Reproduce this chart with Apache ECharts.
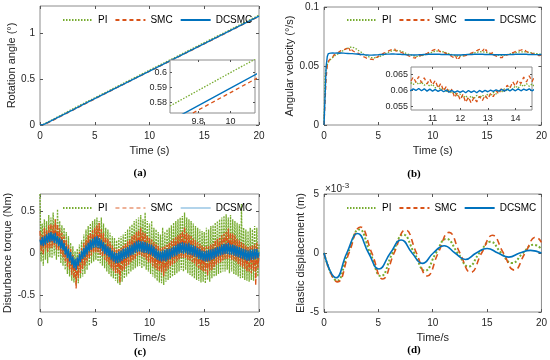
<!DOCTYPE html>
<html><head><meta charset="utf-8">
<script src="https://cdn.jsdelivr.net/npm/echarts@6/dist/echarts.min.js"></script>
<style>html,body{margin:0;padding:0;background:#fff}#c{width:550px;height:360px}</style>
</head><body><div id="c"></div>
<script>
// ---------- DATA ----------
const seriesNames = ['PI', 'SMC', 'DCSMC'];
const captions = ['(a)', '(b)', '(c)', '(d)'];

// (a) rotation angle (deg)
const angleT = [0, 0.25, 0.5, 1, 2, 3, 4, 5, 6, 7, 8, 9, 10, 11, 12, 13, 14, 15, 16, 17, 18, 19, 20];
const anglePI = [0, 0.004, 0.02, 0.05, 0.113, 0.177, 0.238, 0.297, 0.357, 0.419, 0.479, 0.539, 0.600, 0.660, 0.719, 0.779, 0.840, 0.900, 0.960, 1.019, 1.080, 1.140, 1.200];
const angleSMC = [0, 0.001, 0.010, 0.040, 0.101, 0.162, 0.224, 0.285, 0.346, 0.4065, 0.4665, 0.5265, 0.5865, 0.6465, 0.7065, 0.7665, 0.8265, 0.8865, 0.9465, 1.0065, 1.0665, 1.1265, 1.1865];
const angleDC = [0, 0.002, 0.014, 0.044, 0.105, 0.166, 0.227, 0.288, 0.349, 0.4095, 0.4695, 0.5295, 0.5895, 0.6495, 0.7095, 0.7695, 0.8295, 0.8895, 0.9495, 1.0095, 1.0695, 1.1295, 1.1895];

// time grid for (b) and (c): 0 .. 20 s, step 0.1 s
const timeGrid = Array.from({length: 201}, (_, i) => i / 10);

// (b) angular velocity (deg/s)
const velPI = [
0, 0.042, 0.048, 0.051, 0.053, 0.0545, 0.0556, 0.0567, 0.0572, 0.0580,
0.0588, 0.0582, 0.0597, 0.0593, 0.0609, 0.0611, 0.0626, 0.0617, 0.0631, 0.0629,
0.0645, 0.0638, 0.0651, 0.0647, 0.0659, 0.0652, 0.0661, 0.0653, 0.0652, 0.0644,
0.0643, 0.0632, 0.0629, 0.0617, 0.0619, 0.0606, 0.0602, 0.0594, 0.0591, 0.0579,
0.0583, 0.0571, 0.0574, 0.0565, 0.0570, 0.0562, 0.0569, 0.0563, 0.0573, 0.0567,
0.0575, 0.0571, 0.0583, 0.0579, 0.0591, 0.0587, 0.0601, 0.0597, 0.0611, 0.0607,
0.0619, 0.0616, 0.0627, 0.0621, 0.0633, 0.0627, 0.0634, 0.0626, 0.0631, 0.0623,
0.0628, 0.0617, 0.0621, 0.0609, 0.0614, 0.0606, 0.0604, 0.0596, 0.0598, 0.0588,
0.0594, 0.0583, 0.0587, 0.0576, 0.0582, 0.0574, 0.0581, 0.0576, 0.0585, 0.0578,
0.0586, 0.0581, 0.0593, 0.0587, 0.0598, 0.0593, 0.0604, 0.0599, 0.0612, 0.0606,
0.0616, 0.0613, 0.0626, 0.0618, 0.0627, 0.0619, 0.0625, 0.0616, 0.0622, 0.0613,
0.0619, 0.0608, 0.0613, 0.0602, 0.0607, 0.0597, 0.0601, 0.0591, 0.0594, 0.0584,
0.0589, 0.0578, 0.0584, 0.0574, 0.0583, 0.0575, 0.0585, 0.0577, 0.0586, 0.0579,
0.0589, 0.0583, 0.0594, 0.0589, 0.0601, 0.0595, 0.0605, 0.0599, 0.0611, 0.0604,
0.0614, 0.0607, 0.0619, 0.0612, 0.0621, 0.0613, 0.0620, 0.0611, 0.0617, 0.0608,
0.0614, 0.0604, 0.0609, 0.0599, 0.0603, 0.0594, 0.0598, 0.0589, 0.0593, 0.0585,
0.0592, 0.0584, 0.0590, 0.0582, 0.0591, 0.0583, 0.0592, 0.0585, 0.0595, 0.0588,
0.0599, 0.0592, 0.0604, 0.0598, 0.0609, 0.0603, 0.0613, 0.0606, 0.0617, 0.0610,
0.0619, 0.0611, 0.0620, 0.0612, 0.0621, 0.0613, 0.0619, 0.0611, 0.0616, 0.0608,
0.0613, 0.0605, 0.0609, 0.0601, 0.0606, 0.0599, 0.0604, 0.0596, 0.0601, 0.0594,
0.0599];
const velSMC = [
0, 0.020, 0.040, 0.050, 0.054, 0.0555, 0.0562, 0.0578, 0.0574, 0.0592,
0.0585, 0.0603, 0.0596, 0.0614, 0.0604, 0.0628, 0.0612, 0.0635, 0.0622, 0.0641,
0.0629, 0.0649, 0.0632, 0.0651, 0.0630, 0.0648, 0.0631, 0.0645, 0.0621, 0.0637,
0.0616, 0.0628, 0.0605, 0.0617, 0.0591, 0.0603, 0.0581, 0.0594, 0.0572, 0.0584,
0.0563, 0.0577, 0.0558, 0.0572, 0.0556, 0.0570, 0.0555, 0.0573, 0.0560, 0.0576,
0.0568, 0.0587, 0.0579, 0.0597, 0.0589, 0.0609, 0.0598, 0.0617, 0.0608, 0.0626,
0.0617, 0.0634, 0.0624, 0.0643, 0.0627, 0.0645, 0.0628, 0.0642, 0.0624, 0.0640,
0.0621, 0.0636, 0.0612, 0.0627, 0.0603, 0.0619, 0.0596, 0.0610, 0.0586, 0.0600,
0.0580, 0.0595, 0.0571, 0.0586, 0.0567, 0.0584, 0.0568, 0.0585, 0.0571, 0.0589,
0.0574, 0.0592, 0.0583, 0.0601, 0.0590, 0.0608, 0.0600, 0.0619, 0.0609, 0.0628,
0.0614, 0.0637, 0.0626, 0.0641, 0.0625, 0.0643, 0.0624, 0.0639, 0.0620, 0.0635,
0.0617, 0.0631, 0.0607, 0.0622, 0.0598, 0.0613, 0.0590, 0.0604, 0.0578, 0.0593,
0.0571, 0.0588, 0.0563, 0.0580, 0.0561, 0.0579, 0.0565, 0.0582, 0.0568, 0.0586,
0.0573, 0.0591, 0.0581, 0.0599, 0.0589, 0.0608, 0.0597, 0.0616, 0.0606, 0.0627,
0.0613, 0.0632, 0.0621, 0.0641, 0.0626, 0.0645, 0.0627, 0.0644, 0.0623, 0.0640,
0.0622, 0.0637, 0.0613, 0.0628, 0.0602, 0.0619, 0.0594, 0.0610, 0.0585, 0.0599,
0.0580, 0.0594, 0.0572, 0.0588, 0.0571, 0.0589, 0.0573, 0.0590, 0.0577, 0.0596,
0.0581, 0.0600, 0.0591, 0.0611, 0.0600, 0.0618, 0.0607, 0.0626, 0.0615, 0.0633,
0.0617, 0.0635, 0.0622, 0.0639, 0.0623, 0.0638, 0.0621, 0.0636, 0.0617, 0.0632,
0.0614, 0.0628, 0.0605, 0.0619, 0.0597, 0.0612, 0.0591, 0.0606, 0.0588, 0.0601,
0.0593];
const velDC = [
0, 0.025, 0.050, 0.058, 0.0605, 0.0612, 0.0609, 0.0614, 0.0610, 0.0615,
0.0609, 0.0615, 0.0610, 0.0614, 0.0608, 0.0615, 0.0610, 0.0614, 0.0609, 0.0613,
0.0607, 0.0612, 0.0606, 0.0611, 0.0605, 0.0610, 0.0605, 0.0609, 0.0603, 0.0608,
0.0602, 0.0607, 0.0600, 0.0605, 0.0598, 0.0603, 0.0597, 0.0601, 0.0594, 0.0599,
0.0593, 0.0598, 0.0592, 0.0597, 0.0592, 0.0598, 0.0593, 0.0598, 0.0594, 0.0599,
0.0595, 0.0600, 0.0597, 0.0602, 0.0598, 0.0603, 0.0599, 0.0605, 0.0601, 0.0606,
0.0601, 0.0607, 0.0602, 0.0608, 0.0602, 0.0607, 0.0601, 0.0606, 0.0600, 0.0605,
0.0600, 0.0605, 0.0598, 0.0603, 0.0597, 0.0602, 0.0595, 0.0600, 0.0594, 0.0599,
0.0594, 0.0599, 0.0593, 0.0598, 0.0593, 0.0599, 0.0594, 0.0599, 0.0595, 0.0600,
0.0595, 0.0601, 0.0597, 0.0603, 0.0598, 0.0604, 0.0599, 0.0605, 0.0600, 0.0606,
0.0600, 0.0606, 0.0599, 0.0605, 0.0600, 0.0606, 0.0599, 0.0605, 0.0598, 0.0604,
0.0598, 0.0603, 0.0597, 0.0602, 0.0596, 0.0601, 0.0595, 0.0600, 0.0594, 0.0599,
0.0594, 0.0599, 0.0593, 0.0600, 0.0594, 0.0599, 0.0593, 0.0600, 0.0595, 0.0600,
0.0596, 0.0601, 0.0597, 0.0602, 0.0598, 0.0603, 0.0598, 0.0604, 0.0599, 0.0604,
0.0599, 0.0605, 0.0599, 0.0604, 0.0600, 0.0605, 0.0599, 0.0604, 0.0598, 0.0603,
0.0598, 0.0603, 0.0597, 0.0602, 0.0596, 0.0601, 0.0595, 0.0601, 0.0595, 0.0600,
0.0595, 0.0600, 0.0595, 0.0601, 0.0595, 0.0600, 0.0595, 0.0601, 0.0596, 0.0601,
0.0596, 0.0602, 0.0597, 0.0603, 0.0598, 0.0604, 0.0599, 0.0604, 0.0599, 0.0605,
0.0599, 0.0605, 0.0599, 0.0604, 0.0600, 0.0605, 0.0599, 0.0604, 0.0598, 0.0603,
0.0598, 0.0603, 0.0597, 0.0602, 0.0596, 0.0601, 0.0596, 0.0601, 0.0595, 0.0600,
0.0598];

// (c) disturbance torque (Nm)
const torquePI = [
0.70, -0.10, 0.35, -0.15, 0.40, -0.08, 0.38, -0.12, 0.45, -0.05,
0.42, -0.06, 0.48, -0.03, 0.40, -0.08, 0.52, -0.05, 0.38, -0.12,
0.33, -0.15, 0.30, -0.20, 0.25, -0.25, 0.20, -0.28, 0.12, -0.33,
0.08, -0.35, 0.02, -0.38, 0.05, -0.36, 0.10, -0.30, 0.15, -0.28,
0.22, -0.25, 0.28, -0.20, 0.32, -0.15, 0.35, -0.12, 0.38, -0.10,
0.40, -0.08, 0.42, -0.10, 0.38, -0.12, 0.42, -0.15, 0.35, -0.18,
0.30, -0.22, 0.28, -0.25, 0.24, -0.28, 0.20, -0.30, 0.18, -0.33,
0.15, -0.36, 0.18, -0.38, 0.20, -0.34, 0.22, -0.30, 0.25, -0.28,
0.28, -0.25, 0.32, -0.22, 0.34, -0.20, 0.38, -0.18, 0.40, -0.16,
0.42, -0.15, 0.45, -0.18, 0.40, -0.16, 0.48, -0.20, 0.38, -0.22,
0.35, -0.25, 0.38, -0.28, 0.30, -0.30, 0.28, -0.33, 0.25, -0.35,
0.22, -0.36, 0.30, -0.38, 0.25, -0.34, 0.28, -0.32, 0.30, -0.30,
0.33, -0.28, 0.36, -0.26, 0.38, -0.24, 0.40, -0.22, 0.42, -0.20,
0.44, -0.22, 0.48, -0.20, 0.42, -0.24, 0.40, -0.26, 0.38, -0.28,
0.35, -0.30, 0.32, -0.32, 0.30, -0.33, 0.28, -0.35, 0.26, -0.34,
0.25, -0.36, 0.30, -0.32, 0.28, -0.34, 0.32, -0.30, 0.33, -0.28,
0.36, -0.27, 0.38, -0.25, 0.40, -0.24, 0.42, -0.22, 0.44, -0.22,
0.46, -0.20, 0.42, -0.24, 0.45, -0.22, 0.40, -0.25, 0.38, -0.26,
0.36, -0.28, 0.34, -0.30, 0.58, -0.30, 0.30, -0.32, 0.28, -0.33,
0.26, -0.34, 0.30, -0.32, 0.28, -0.33, 0.32, -0.30, 0.30, -0.28,
0.10];
const torqueSMC = [
0.26, 0.02, 0.22, -0.02, 0.30, 0.05, 0.27, 0.01, 0.33, 0.06,
0.35, 0.06, 0.33, 0.09, 0.40, 0.04, 0.34, 0.03, 0.29, -0.01,
0.24, -0.05, 0.20, -0.10, 0.15, -0.16, 0.10, -0.20, 0.05, -0.26,
-0.02, -0.30, -0.08, -0.42, -0.05, -0.30, 0.01, -0.24, 0.06, -0.19,
0.12, -0.15, 0.16, -0.10, 0.21, -0.06, 0.24, -0.03, 0.27, 0.00,
0.30, 0.01, 0.33, 0.00, 0.36, -0.02, 0.28, -0.04, 0.24, -0.08,
0.19, -0.10, 0.17, -0.14, 0.13, -0.18, 0.09, -0.21, 0.06, -0.24,
0.04, -0.25, 0.05, -0.35, 0.06, -0.22, 0.09, -0.20, 0.11, -0.16,
0.14, -0.14, 0.16, -0.11, 0.20, -0.09, 0.22, -0.08, 0.25, -0.04,
0.27, -0.03, 0.30, -0.04, 0.25, -0.05, 0.24, -0.08, 0.21, -0.11,
0.18, -0.12, 0.16, -0.16, 0.13, -0.18, 0.11, -0.20, 0.09, -0.22,
0.06, -0.23, 0.07, -0.28, 0.08, -0.22, 0.10, -0.19, 0.12, -0.16,
0.15, -0.14, 0.17, -0.12, 0.19, -0.10, 0.21, -0.08, 0.23, -0.06,
0.26, -0.06, 0.31, -0.06, 0.24, -0.08, 0.22, -0.09, 0.20, -0.11,
0.17, -0.13, 0.15, -0.16, 0.13, -0.18, 0.11, -0.20, 0.09, -0.22,
0.07, -0.22, 0.08, -0.27, 0.08, -0.21, 0.10, -0.20, 0.11, -0.17,
0.15, -0.14, 0.17, -0.12, 0.18, -0.11, 0.21, -0.09, 0.23, -0.07,
0.25, -0.07, 0.29, -0.07, 0.24, -0.08, 0.23, -0.09, 0.21, -0.10,
0.17, -0.13, 0.15, -0.15, 0.13, -0.17, 0.11, -0.19, 0.09, -0.22,
0.07, -0.22, 0.08, -0.24, 0.09, -0.21, 0.10, -0.38, 0.12, -0.18,
-0.02];
const torqueDC = [
0.16, 0.09, 0.19, 0.08, 0.20, 0.10, 0.22, 0.12, 0.24, 0.13,
0.25, 0.14, 0.23, 0.12, 0.24, 0.11, 0.20, 0.08, 0.18, 0.05,
0.16, 0.03, 0.12, -0.02, 0.08, -0.06, 0.05, -0.10, 0.01, -0.14,
-0.04, -0.18, -0.07, -0.20, -0.05, -0.15, -0.01, -0.11, 0.03, -0.07,
0.06, -0.05, 0.09, -0.02, 0.12, 0.02, 0.15, 0.04, 0.17, 0.06,
0.19, 0.07, 0.20, 0.06, 0.18, 0.05, 0.16, 0.02, 0.13, -0.01,
0.10, -0.03, 0.08, -0.05, 0.06, -0.08, 0.03, -0.10, 0.01, -0.12,
0.00, -0.12, 0.02, -0.11, 0.03, -0.09, 0.05, -0.07, 0.06, -0.06,
0.07, -0.05, 0.09, -0.03, 0.10, -0.02, 0.12, 0.00, 0.14, 0.01,
0.15, 0.02, 0.14, 0.01, 0.14, 0.00, 0.13, 0.00, 0.12, -0.01,
0.11, -0.02, 0.10, -0.04, 0.08, -0.06, 0.05, -0.08, 0.03, -0.09,
0.02, -0.10, 0.03, -0.09, 0.04, -0.10, 0.05, -0.08, 0.05, -0.07,
0.06, -0.05, 0.08, -0.04, 0.09, -0.03, 0.11, -0.01, 0.12, 0.00,
0.13, -0.01, 0.12, 0.00, 0.11, -0.02, 0.12, -0.02, 0.10, -0.03,
0.09, -0.04, 0.08, -0.05, 0.06, -0.07, 0.05, -0.08, 0.03, -0.09,
0.02, -0.10, 0.03, -0.10, 0.04, -0.09, 0.04, -0.08, 0.05, -0.07,
0.06, -0.05, 0.07, -0.04, 0.08, -0.03, 0.10, -0.02, 0.11, -0.01,
0.11, -0.01, 0.12, -0.02, 0.10, -0.02, 0.10, -0.03, 0.09, -0.04,
0.08, -0.05, 0.07, -0.06, 0.06, -0.07, 0.05, -0.08, 0.04, -0.09,
0.03, -0.09, 0.04, -0.08, 0.04, -0.08, 0.05, -0.07, 0.05, -0.06,
0.01];

// (d) elastic displacement (x10^-3 m), sampled at extrema and zero crossings
const dispPIT  = [0, 1.2, 2.2, 3.25, 4.25, 5.25, 6.3, 7.3, 8.3, 9.3, 10.3, 11.25, 12.3, 13.3, 14.3, 15.3, 16.3, 17.3, 18.3, 19.3, 20];
const dispPI   = [0, -2.35, 0, 2.0, 0, -1.95, 0, 1.55, 0, -1.5, 0, 1.2, 0, -1.15, 0, 0.95, 0, -0.85, 0, 0.7, 0.35];
const dispSMCT = [0, 1.25, 2.3, 3.35, 4.4, 5.4, 6.45, 7.5, 8.5, 9.5, 10.5, 11.5, 12.5, 13.5, 14.5, 15.5, 16.5, 17.5, 18.5, 19.5, 20];
const dispSMC  = [0, -2.45, 0, 2.2, 0, -2.2, 0, 1.95, 0, -1.95, 0, 1.75, 0, -1.65, 0, 1.5, 0, -1.45, 0, 1.35, 0.9];
const dispDCT  = [0, 1.1, 2.1, 3.1, 4.1, 5.05, 6.1, 7.1, 8.1, 9.05, 10.05, 11.05, 12.05, 13.0, 14.0, 15.0, 16.0, 17.0, 18.0, 19.0, 20];
const dispDC   = [0, -2.1, 0, 1.65, 0, -1.35, 0, 1.1, 0, -0.88, 0, 0.62, 0, -0.55, 0, 0.38, 0, -0.35, 0, 0.22, 0];

// tick values
const timeTicks = [0, 5, 10, 15, 20];
const angleTicks = [0, 0.5, 1];
const velTicks = [0, 0.05, 0.1];
const torqueTicks = [-0.5, 0, 0.5];
const dispTicks = [-5, 0, 5];
const insetATimeTicks = [9.8, 10];
const insetAAngleTicks = [0.58, 0.59, 0.6];
const insetBTimeTicks = [11, 12, 13, 14];
const insetBVelTicks = [0.055, 0.06, 0.065];

// ---------- CHART ----------
const pair = (ts, vs) => vs.map((v, i) => [ts[i], v]);
const FONT = 'Liberation Sans';
const TXT = '#262626';
const FRAME = '#8c8c8c';
const C_PI = '#77AC30', C_SMC = '#D95319', C_DC = '#0072BD';

const grids = [
  {left: 40, top: 6, width: 219, height: 119},
  {left: 170, top: 60, width: 85, height: 53, z: 5, backgroundColor: '#fff'},
  {left: 324, top: 7, width: 218.5, height: 118},
  {left: 411, top: 67, width: 121, height: 43, z: 5, backgroundColor: '#fff'},
  {left: 40, top: 194, width: 219, height: 118},
  {left: 324, top: 194, width: 218.5, height: 118}
].map(g => Object.assign({show: true, borderColor: FRAME, borderWidth: 1, containLabel: false}, g));

function axis(g, pos, min, max, ticks, showLabel, o) {
  o = o || {};
  const a = {
    type: 'value', gridIndex: g, position: pos, min: min, max: max,
    axisLine: {show: false, onZero: false}, splitLine: {show: false},
    axisTick: {show: true, inside: true, length: o.tickLen || 3, lineStyle: {color: '#555', width: 1}, customValues: ticks},
    axisLabel: {show: showLabel, customValues: ticks, color: TXT, fontFamily: FONT, fontSize: o.fs || 10, margin: o.margin || 5},
    z: o.z || 0
  };
  if (o.name) {
    a.name = o.name; a.nameLocation = 'middle'; a.nameGap = o.nameGap;
    a.nameTextStyle = {color: TXT, fontFamily: FONT, fontSize: 11};
  }
  return a;
}

const xAxes = [
  axis(0, 'bottom', 0, 20, timeTicks, true, {name: 'Time (s)', nameGap: 20, margin: 6}),
  axis(0, 'top', 0, 20, timeTicks, false),
  axis(1, 'bottom', 9.63, 10.15, insetATimeTicks, true, {fs: 9, margin: 4, z: 6, tickLen: 2}),
  axis(1, 'top', 9.63, 10.15, insetATimeTicks, false, {z: 6, tickLen: 2}),
  axis(2, 'bottom', 0, 20, timeTicks, true, {name: 'Time (s)', nameGap: 20, margin: 6}),
  axis(2, 'top', 0, 20, timeTicks, false),
  axis(3, 'bottom', 10.22, 14.6, insetBTimeTicks, true, {fs: 9, margin: 4, z: 6, tickLen: 2}),
  axis(3, 'top', 10.22, 14.6, insetBTimeTicks, false, {z: 6, tickLen: 2}),
  axis(4, 'bottom', 0, 20, timeTicks, true, {name: 'Time/s', nameGap: 20, margin: 6}),
  axis(4, 'top', 0, 20, timeTicks, false),
  axis(5, 'bottom', 0, 20, timeTicks, true, {name: 'Time/s', nameGap: 20, margin: 6}),
  axis(5, 'top', 0, 20, timeTicks, false)
];
const yAxes = [
  axis(0, 'left', 0, 1.3, angleTicks, true, {name: 'Rotation angle (°)', nameGap: 22}),
  axis(0, 'right', 0, 1.3, angleTicks, false),
  axis(1, 'left', 0.5727, 0.6085, insetAAngleTicks, true, {fs: 9, margin: 3, z: 6, tickLen: 2}),
  axis(1, 'right', 0.5727, 0.6085, insetAAngleTicks, false, {z: 6, tickLen: 2}),
  axis(2, 'left', 0, 0.1, velTicks, true, {name: 'Angular velocity (°/s)', nameGap: 28}),
  axis(2, 'right', 0, 0.1, velTicks, false),
  axis(3, 'left', 0.054, 0.0672, insetBVelTicks, true, {fs: 9, margin: 3, z: 6, tickLen: 2}),
  axis(3, 'right', 0.054, 0.0672, insetBVelTicks, false, {z: 6, tickLen: 2}),
  axis(4, 'left', -0.7, 0.7, torqueTicks, true, {name: 'Disturbance torque (Nm)', nameGap: 24}),
  axis(4, 'right', -0.7, 0.7, torqueTicks, false),
  axis(5, 'left', -5, 5, dispTicks, true, {name: 'Elastic displacement (m)', nameGap: 16}),
  axis(5, 'right', -5, 5, dispTicks, false)
];

const styles = {
  PI: {color: C_PI, width: 1.3, type: [1.5, 1.5]},
  SMC: {color: C_SMC, width: 1.3, type: [4, 3]},
  DCSMC: {color: C_DC, width: 1.4, type: 'solid'}
};
const stylesD = {
  PI: {color: C_PI, width: 2, type: [2, 2]},
  SMC: {color: C_SMC, width: 1.6, type: [6, 4]},
  DCSMC: {color: C_DC, width: 1.6, type: 'solid'}
};
function line(name, data, g, st, extra) {
  return Object.assign({
    type: 'line', name: name, data: data, xAxisIndex: 2 * g, yAxisIndex: 2 * g,
    symbol: 'none', showSymbol: false, silent: true, animation: false, clip: true,
    itemStyle: {color: st.color}, lineStyle: Object.assign({}, st), z: 2
  }, extra || {});
}

const series = [
  line('PI', pair(angleT, anglePI), 0, styles.PI),
  line('SMC', pair(angleT, angleSMC), 0, styles.SMC),
  line('DCSMC', pair(angleT, angleDC), 0, styles.DCSMC),
  line('PI', pair(angleT, anglePI), 1, styles.PI, {z: 7}),
  line('SMC', pair(angleT, angleSMC), 1, styles.SMC, {z: 7}),
  line('DCSMC', pair(angleT, angleDC), 1, styles.DCSMC, {z: 7}),
  line('PI', pair(timeGrid, velPI), 2, styles.PI),
  line('SMC', pair(timeGrid, velSMC), 2, styles.SMC),
  line('DCSMC', pair(timeGrid, velDC), 2, styles.DCSMC),
  line('PI', pair(timeGrid, velPI), 3, styles.PI, {z: 7}),
  line('SMC', pair(timeGrid, velSMC), 3, styles.SMC, {z: 7}),
  line('DCSMC', pair(timeGrid, velDC), 3, styles.DCSMC, {z: 7}),
  line('PI', pair(timeGrid, torquePI), 4, {color: C_PI, width: 1.3, type: [2, 1]}),
  line('SMC', pair(timeGrid, torqueSMC), 4, {color: C_SMC, width: 1.3, type: [5, 1.5]}),
  line('DCSMC', pair(timeGrid, torqueDC), 4, {color: C_DC, width: 1.3, type: 'solid'}),
  line('PI', pair(dispPIT, dispPI), 5, stylesD.PI, {smooth: 0.5}),
  line('SMC', pair(dispSMCT, dispSMC), 5, stylesD.SMC, {smooth: 0.5}),
  line('DCSMC', pair(dispDCT, dispDC), 5, stylesD.DCSMC, {smooth: 0.5})
];

function legend(left, top, extra) {
  return Object.assign({
    data: seriesNames, left: left, top: top, orient: 'horizontal', width: 230, padding: 0,
    itemWidth: 30, itemHeight: 10, itemGap: 7, selectedMode: false,
    itemStyle: {opacity: 0, borderWidth: 0},
    textStyle: {fontFamily: FONT, fontSize: 10, color: '#000'}
  }, extra || {});
}
const legends = [
  legend(62, 15),
  legend(346, 15),
  legend(62, 203, {data: [
    {name: 'PI'},
    {name: 'SMC', lineStyle: {opacity: 0.45}},
    {name: 'DCSMC', lineStyle: {opacity: 0.3}}
  ]}),
  legend(346, 203, {lineStyle: {width: 2}})
];

const capStyle = {fontFamily: 'Liberation Serif', fontSize: 11, fontWeight: 'bold', fill: '#000', textAlign: 'center', textVerticalAlign: 'middle'};
const graphics = [
  {type: 'text', x: 140, y: 173, style: Object.assign({text: captions[0]}, capStyle)},
  {type: 'text', x: 414, y: 174, style: Object.assign({text: captions[1]}, capStyle)},
  {type: 'text', x: 140, y: 352, style: Object.assign({text: captions[2]}, capStyle)},
  {type: 'text', x: 414, y: 350, style: Object.assign({text: captions[3]}, capStyle)},
  {type: 'text', x: 325, y: 182, style: {
    text: '{a|×10}{b|-3}', fill: TXT,
    rich: {a: {fontFamily: FONT, fontSize: 10, fill: TXT}, b: {fontFamily: FONT, fontSize: 8, fill: TXT, verticalAlign: 'top', padding: [0, 0, 6, 0]}}
  }}
];

const chart = echarts.init(document.getElementById('c'), null, {renderer: 'canvas'});
chart.setOption({
  animation: false,
  backgroundColor: '#fff',
  grid: grids,
  xAxis: xAxes,
  yAxis: yAxes,
  legend: legends,
  series: series,
  graphic: graphics
});
</script></body></html>
